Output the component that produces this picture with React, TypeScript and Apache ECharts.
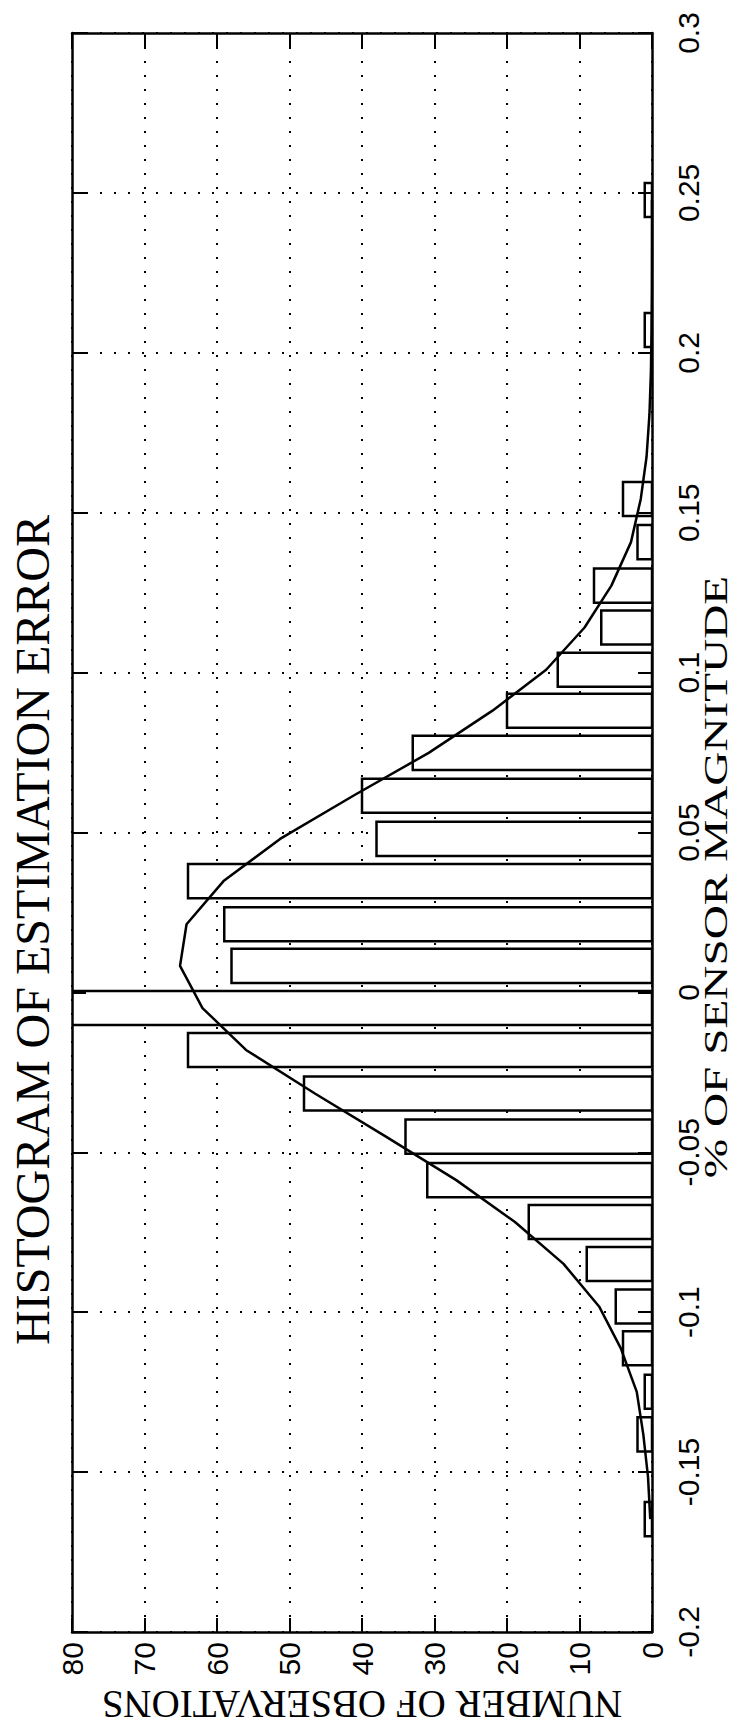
import React, { useEffect, useRef } from "react";
import * as echarts from "echarts";

// Histogram bins (% of sensor magnitude)
const binCenters = [
  -0.1647, -0.1515, -0.1382, -0.1249, -0.1113, -0.0982, -0.0849, -0.0718,
  -0.0587, -0.0451, -0.0316, -0.018, -0.0049, 0.0083, 0.0213, 0.0348,
  0.048, 0.0615, 0.0749, 0.0881, 0.1009, 0.1141, 0.1272, 0.1408,
  0.1543, 0.1675, 0.1808, 0.194, 0.2071, 0.2205, 0.2338, 0.2478,
];
// Number of observations per bin
const counts = [
  1, 0, 2, 1, 4, 5, 9, 17,
  31, 34, 48, 64, 86, 58, 59, 64,
  38, 40, 33, 20, 13, 7, 8, 2,
  4, 0, 0, 0, 1, 0, 0, 1,
];
// Fitted normal curve at each bin centre
const fitCurve = [
  0.24, 0.55, 1.2, 2.1, 4.3, 7.3, 12.2, 18.9,
  27, 36.7, 46.5, 56, 62, 65.1, 64.2, 59.1,
  51.3, 41.2, 30.8, 22, 14.6, 9.3, 5.6, 2.9,
  1.55, 0.75, 0.35, 0.15, 0.06, 0.02, 0.01, 0,
];
const countTickLabels = ["0", "10", "20", "30", "40", "50", "60", "70", "80"];
const pctTickLabels = [
  "-0.2", "-0.15", "-0.1", "-0.05", "0", "0.05", "0.1", "0.15", "0.2", "0.25", "0.3",
];
const titleText = "HISTOGRAM OF ESTIMATION ERROR";
const pctAxisName = "% OF SENSOR MAGNITUDE";
const countAxisName = "NUMBER OF OBSERVATIONS";

export default function App() {
  const ref = useRef<HTMLDivElement>(null);

  useEffect(() => {
    if (!ref.current) return;
    const chart = echarts.init(ref.current, null, { renderer: "svg" });

    const binWidth =
      (binCenters[binCenters.length - 1] - binCenters[0]) / (binCenters.length - 1);
    const half = binWidth * 0.4;

    const countFmt = (v: number) => countTickLabels[Math.round(v / 10)] ?? "";
    const pctFmt = (v: number) => pctTickLabels[Math.round((v + 0.2) / 0.05)] ?? "";

    const tickStyle = {
      show: true,
      inside: true,
      length: 14,
      lineStyle: { color: "#000", width: 2 },
    };
    const frameLine = { show: true, onZero: false, lineStyle: { color: "#000", width: 2.5 } };
    const dotted = {
      show: true,
      lineStyle: { color: "#000", width: 2, type: [2, 12] },
    };
    const off = { show: false };
    const labelFont = {
      color: "#000",
      fontFamily: "Liberation Sans",
      fontSize: 30,
    };

    const countBase = { type: "value", min: 0, max: 80, interval: 10, inverse: true };
    const pctBase = { type: "value", min: -0.2, max: 0.3, interval: 0.05 };
    const serif = "'Liberation Serif', 'DejaVu Serif', serif";

    const option = {
      animation: false,
      backgroundColor: "#fff",
      grid: { left: 72, right: 86, top: 33, bottom: 97, containLabel: false },
      xAxis: [
        {
          ...countBase,
          position: "bottom",
          z: 5,
          axisLine: frameLine,
          axisTick: tickStyle,
          splitLine: off,
          axisLabel: { show: true, rotate: 90, margin: 10, formatter: countFmt, ...labelFont },
        },
        {
          ...countBase,
          position: "top",
          z: 5,
          axisLine: frameLine,
          axisTick: tickStyle,
          axisLabel: off,
          splitLine: off,
        },
        {
          ...countBase,
          position: "bottom",
          z: 0,
          axisLine: off,
          axisTick: off,
          axisLabel: off,
          splitLine: dotted,
        },
      ],
      yAxis: [
        {
          ...pctBase,
          position: "right",
          z: 5,
          axisLine: frameLine,
          axisTick: tickStyle,
          splitLine: off,
          axisLabel: { show: true, rotate: 90, margin: 21, formatter: pctFmt, ...labelFont },
        },
        {
          ...pctBase,
          position: "left",
          z: 5,
          axisLine: frameLine,
          axisTick: tickStyle,
          axisLabel: off,
          splitLine: off,
        },
        {
          ...pctBase,
          position: "left",
          z: 0,
          axisLine: off,
          axisTick: off,
          axisLabel: off,
          splitLine: dotted,
        },
      ],
      series: [
        {
          type: "custom",
          xAxisIndex: 0,
          yAxisIndex: 0,
          z: 2,
          clip: true,
          encode: { x: 0, y: 1 },
          data: binCenters.map((c, i) => [counts[i], c]),
          renderItem: (_params: any, api: any) => {
            const n = api.value(0);
            const c = api.value(1);
            if (!n) return null;
            const a = api.coord([0, c + half]);
            const b = api.coord([n, c - half]);
            return {
              type: "rect",
              shape: {
                x: Math.min(a[0], b[0]),
                y: Math.min(a[1], b[1]),
                width: Math.abs(a[0] - b[0]),
                height: Math.abs(a[1] - b[1]),
              },
              style: { fill: "#fff", stroke: "#000", lineWidth: 2.5 },
            };
          },
        },
        {
          type: "line",
          xAxisIndex: 0,
          yAxisIndex: 0,
          z: 3,
          silent: true,
          symbol: "none",
          data: binCenters.map((c, i) => [fitCurve[i], c]),
          lineStyle: { color: "#000", width: 2.5 },
        },
      ],
      graphic: [
        {
          type: "text",
          x: 32,
          y: 930,
          rotation: Math.PI / 2,
          style: {
            text: titleText,
            fontFamily: serif,
            fontSize: 48,
            fill: "#000",
            textAlign: "center",
            textVerticalAlign: "middle",
          },
        },
        {
          type: "text",
          x: 715,
          y: 877,
          rotation: Math.PI / 2,
          scaleX: 1.39,
          style: {
            text: pctAxisName,
            fontFamily: serif,
            fontSize: 34,
            fill: "#000",
            textAlign: "center",
            textVerticalAlign: "middle",
          },
        },
        {
          type: "text",
          x: 362,
          y: 1704,
          rotation: Math.PI,
          style: {
            text: countAxisName,
            fontFamily: serif,
            fontSize: 39,
            fill: "#000",
            textAlign: "center",
            textVerticalAlign: "middle",
          },
        },
      ],
    };

    chart.setOption(option as any);
    return () => chart.dispose();
  }, []);

  return (
    <div
      ref={ref}
      style={{
        position: "absolute",
        left: 0,
        top: 0,
        width: 738,
        height: 1729,
        background: "#fff",
      }}
    />
  );
}
